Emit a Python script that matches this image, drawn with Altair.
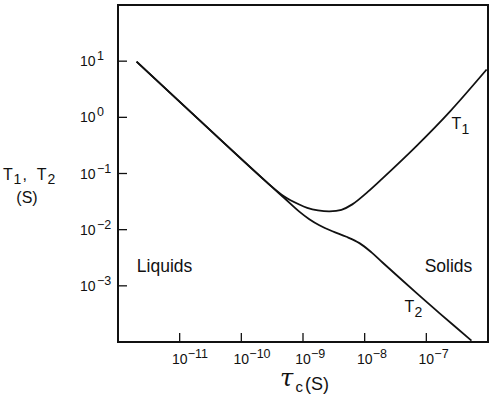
import altair as alt
import pandas as pd

# ---- data ----
t1_tau = [2.0e-12, 2.05e-11, 2.6e-10, 4.97e-10, 8.71e-10, 1.17e-9, 1.75e-9, 2.7e-9,
          4.2e-9, 6.3e-9, 1.12e-8, 1.95e-8, 6.9e-8, 2.43e-7, 9.5e-7]
t1_val = [9.8, 0.91, 0.0695, 0.039, 0.028, 0.0245, 0.0221, 0.0212,
          0.0226, 0.0282, 0.047, 0.082, 0.308, 1.28, 7.1]
t2_tau = [2.0e-12, 2.05e-11, 2.6e-10, 4.97e-10, 8.71e-10, 1.266e-9, 1.841e-9, 2.995e-9,
          5.06e-9, 8.23e-9, 1.29e-8, 1.948e-8, 6.96e-8, 1.645e-7, 5.39e-7]
t2_val = [9.8, 0.91, 0.0695, 0.0366, 0.0210, 0.01539, 0.01202, 0.00938,
          0.00747, 0.00576, 0.00394, 0.002607, 0.00074, 0.000324, 0.000106]

x_ticks = [1e-11, 1e-10, 1e-9, 1e-8, 1e-7]
x_exps = ["\u221211", "\u221210", "\u22129", "\u22128", "\u22127"]
y_ticks = [1e1, 1e0, 1e-1, 1e-2, 1e-3]
y_exps = ["1", "0", "\u22121", "\u22122", "\u22123"]

region_labels = ["Liquids", "Solids"]
region_tau = [2.02e-12, 9.4e-8]
region_val = [1.73e-3, 1.73e-3]
curve_labels = ["1", "2"]
curve_label_tau = [2.55e-7, 4.43e-8]
curve_label_val = [0.62, 3.42e-4]

FONT = "Liberation Sans"
INK = "#111111"

curves = pd.concat([
    pd.DataFrame({"tau": t1_tau, "T": t1_val, "series": "T1"}),
    pd.DataFrame({"tau": t2_tau, "T": t2_val, "series": "T2"}),
])
xt = pd.DataFrame({"tau": x_ticks, "exp": x_exps})
yt = pd.DataFrame({"v": y_ticks, "exp": y_exps})
regions = pd.DataFrame({"tau": region_tau, "T": region_val, "label": region_labels})
clabels = pd.DataFrame({"tau": curve_label_tau, "T": curve_label_val, "sub": curve_labels})
one = pd.DataFrame({"a": [0]})

xs = alt.Scale(type="log", domain=[1e-12, 1e-6], nice=False)
ys = alt.Scale(type="log", domain=[1e-4, 1e2], nice=False)

lines = alt.Chart(curves).mark_line(
    interpolate="catmull-rom", color=INK, strokeWidth=1.8
).encode(
    x=alt.X("tau:Q", scale=xs, axis=None),
    y=alt.Y("T:Q", scale=ys, axis=None),
    detail="series:N",
)

xtick_rules = alt.Chart(xt).mark_rule(color=INK, strokeWidth=1.3).encode(
    x=alt.X("tau:Q", scale=xs, axis=None),
    y=alt.value(337), y2=alt.value(328),
)
ytick_rules = alt.Chart(yt).mark_rule(color=INK, strokeWidth=1.3).encode(
    y=alt.Y("v:Q", scale=ys, axis=None),
    x=alt.value(0), x2=alt.value(9),
)

xlab10 = alt.Chart(xt).mark_text(
    text="10", font=FONT, fontSize=14, align="center", baseline="alphabetic", color=INK
).encode(x=alt.X("tau:Q", scale=xs, axis=None), y=alt.value(359))
xlabexp = alt.Chart(xt).mark_text(
    font=FONT, fontSize=12.5, align="left", baseline="alphabetic", dx=8, color=INK
).encode(x=alt.X("tau:Q", scale=xs, axis=None), y=alt.value(352.5), text="exp:N")

ylab10 = alt.Chart(yt).mark_text(
    text="10", font=FONT, fontSize=14, align="right", baseline="alphabetic", dy=5, color=INK
).encode(y=alt.Y("v:Q", scale=ys, axis=None), x=alt.value(-22.5))
ylabexp = alt.Chart(yt).mark_text(
    font=FONT, fontSize=12.5, align="left", baseline="alphabetic", dy=-1, color=INK
).encode(y=alt.Y("v:Q", scale=ys, axis=None), x=alt.value(-21), text="exp:N")

region_text = alt.Chart(regions).mark_text(
    font=FONT, fontSize=17.5, align="left", baseline="alphabetic", color=INK
).encode(x=alt.X("tau:Q", scale=xs, axis=None), y=alt.Y("T:Q", scale=ys, axis=None), text="label:N")

curve_T = alt.Chart(clabels).mark_text(
    text="T", font=FONT, fontSize=16, align="left", baseline="alphabetic", color=INK
).encode(x=alt.X("tau:Q", scale=xs, axis=None), y=alt.Y("T:Q", scale=ys, axis=None))
curve_sub = alt.Chart(clabels).mark_text(
    font=FONT, fontSize=14, align="left", baseline="alphabetic", dx=10, dy=5, color=INK
).encode(x=alt.X("tau:Q", scale=xs, axis=None), y=alt.Y("T:Q", scale=ys, axis=None), text="sub:N")


def txt(s, x, y, size, align="left", font=FONT, style="normal"):
    return alt.Chart(one).mark_text(
        text=s, font=font, fontSize=size, align=align, baseline="alphabetic",
        fontStyle=style, color=INK
    ).encode(x=alt.value(x), y=alt.value(y))


titles = [
    txt("T", -115, 174.5, 16),
    txt("1", -104.5, 178.5, 14),
    txt(",", -95.5, 174.5, 16),
    txt("T", -81.3, 174.5, 16),
    txt("2", -70.5, 178.5, 14),
    txt("(S)", -91, 197.5, 16, align="center"),
    txt("\u03c4", 162, 381, 24, font="DejaVu Serif", style="italic"),
    txt("c", 177.5, 387, 15),
    txt("(S)", 187, 384.5, 18),
]

chart = alt.layer(
    lines, xtick_rules, ytick_rules, xlab10, xlabexp, ylab10, ylabexp,
    region_text, curve_T, curve_sub, *titles
).properties(
    width=370, height=337,
    autosize=alt.AutoSizeParams(type="none"),
    padding={"left": 118, "top": 5, "right": 12, "bottom": 57},
    background="white",
).configure_view(stroke=INK, strokeWidth=2)

chart.save("out.html", embed_options={"renderer": "svg", "actions": False})
